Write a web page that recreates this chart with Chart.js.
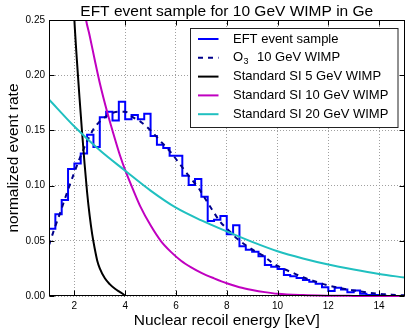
<!DOCTYPE html>
<html><head><meta charset="utf-8">
<script src="https://cdn.jsdelivr.net/npm/chart.js@4/dist/chart.umd.min.js"></script>
<style>html,body{margin:0;padding:0;background:#fff;}</style>
</head><body>
<canvas id="c" width="410" height="335"></canvas>
<script>
// ---------- data ----------
const chartTitle = 'EFT event sample for 10 GeV WIMP in Ge';
const xLabel = 'Nuclear recoil energy [keV]';
const yLabel = 'normalized event rate';
const xTicks = [2, 4, 6, 8, 10, 12, 14];
const yTicks = [0, 0.05, 0.10, 0.15, 0.20, 0.25];

const histEdges = [1.00,1.25,1.50,1.75,2.00,2.25,2.50,2.75,3.00,3.25,3.50,3.75,4.00,4.25,4.50,4.75,
  5.00,5.25,5.50,5.75,6.00,6.25,6.50,6.75,7.00,7.25,7.50,7.75,8.00,8.25,8.50,8.75,9.00,9.25,9.50,9.75,
  10.00,10.25,10.50,10.75,11.00,11.25,11.50,11.75,12.00,12.25,12.50,12.75,13.00,13.25,13.50,13.75,
  14.00,14.25,14.50,14.75,15.00];
const histValues = [0.061,0.074,0.087,0.115,0.120,0.129,0.146,0.135,0.162,0.167,0.159,0.176,
  0.160,0.164,0.160,0.165,0.145,0.137,0.134,0.127,0.127,0.109,0.1005,0.106,0.090,0.068,0.069,0.0725,
  0.056,0.064,0.045,0.042,0.040,0.036,0.028,0.0265,0.0245,0.019,0.018,0.0163,0.0145,0.013,0.011,0.008,
  0.0045,0.0075,0.006,0.0035,0.005,0.002,0.001,0.001,0.0005,0.0,0.0,0.0];

const o3Energy = [1.0,1.2,1.45,1.7,2.0,2.25,2.5,2.75,3.0,3.35,3.7,4.0,4.3,4.6,5.0,5.4,5.8,6.2,6.6,6.9,7.1,7.4,7.75,8.1,8.4,8.75,9.05,9.4,9.8,10.2,10.6,11.0,11.5,12.0,12.5,13.0,13.5,14.0,14.5,15.0];
const o3Values = [0.046,0.060,0.076,0.093,0.112,0.127,0.140,0.151,0.158,0.164,0.167,0.167,0.162,0.158,0.150,0.140,0.130,0.118,0.106,0.0975,0.090,0.079,0.067,0.059,0.052,0.046,0.0415,0.037,0.030,0.025,0.021,0.017,0.013,0.0095,0.007,0.005,0.0033,0.002,0.0012,0.0006];

const si5Energy = [1.8,1.9,2.0,2.1,2.2,2.3,2.4,2.5,2.6,2.7,2.8,2.9,3.0,3.2,3.4,3.6,3.8,3.9,4.0];
const si5Values = [0.36,0.30,0.25,0.213,0.180,0.149,0.120,0.094,0.073,0.056,0.043,0.032,0.025,0.016,0.0105,0.0065,0.0035,0.002,0.0];

const si10Energy = [2.3,2.46,2.6,2.8,3.0,3.3,3.6,3.8,4.0,4.3,4.6,5.0,5.4,5.8,6.2,6.6,7.0,7.5,8.0,8.5,9.0,9.5,10.0,11.0,12.0,13.0,14.0,15.0];
const si10Values = [0.275,0.25,0.236,0.214,0.193,0.166,0.142,0.127,0.114,0.097,0.081,0.064,0.050,0.040,0.032,0.026,0.021,0.016,0.0115,0.008,0.0055,0.0035,0.002,0.0008,0.0003,0.0001,0.0,0.0];

const si20Energy = [1,2,3,4,5,6,7,8,9,10,11,12,13,14,15];
const si20Values = [0.178,0.1535,0.132,0.1135,0.0955,0.0800,0.0685,0.0585,0.0490,0.0405,0.0340,0.0285,0.0240,0.0200,0.0167];

const seriesLabels = ['EFT event sample', 'O3 10 GeV WIMP', 'Standard SI 5 GeV WIMP', 'Standard SI 10 GeV WIMP', 'Standard SI 20 GeV WIMP'];

// ---------- build ----------
const pts = (xs, ys) => xs.map((x, i) => ({x: x, y: ys[i]}));
const histPts = histEdges.map((e, i) => ({x: e, y: histValues[Math.min(i, histValues.length - 1)]}));
const FONT = '"Liberation Sans", Arial, Helvetica, sans-serif';

const decor = {
  id: 'decor',
  afterDatasetsDraw(chart) {
    const {ctx, chartArea: a, scales: {x, y}} = chart;
    ctx.save();
    ctx.strokeStyle = '#000'; ctx.lineWidth = 1; ctx.setLineDash([]);
    const L = Math.round(a.left) + 0.5, R = Math.round(a.right) - 0.5, T = Math.round(a.top) + 0.5, B = Math.round(a.bottom) - 0.5;
    ctx.strokeRect(L, T, R - L, B - T);
    ctx.beginPath();
    x.ticks.forEach(t => { const p = Math.round(x.getPixelForValue(t.value)) + 0.5;
      ctx.moveTo(p, B); ctx.lineTo(p, B - 5); ctx.moveTo(p, T); ctx.lineTo(p, T + 5); });
    y.ticks.forEach(t => { const p = Math.round(y.getPixelForValue(t.value)) + 0.5;
      ctx.moveTo(L, p); ctx.lineTo(L + 5, p); ctx.moveTo(R, p); ctx.lineTo(R - 5, p); });
    ctx.stroke();
    // legend
    const bx = a.right - 214.5, by = a.top + 7.5, bw = 207.5, bh = 99;
    ctx.fillStyle = '#fff';
    ctx.fillRect(Math.round(bx) + 0.5, Math.round(by) + 0.5, bw, bh);
    ctx.strokeStyle = '#222'; ctx.lineWidth = 1;
    ctx.strokeRect(Math.round(bx) + 0.5, Math.round(by) + 0.5, bw, bh);
    chart.data.datasets.forEach((ds, i) => {
      const ry = by + 11.5 + i * 18.8;
      ctx.beginPath();
      ctx.strokeStyle = ds.borderColor; ctx.lineWidth = 2;
      ctx.setLineDash(ds.borderDash || []);
      ctx.moveTo(bx + 8, ry); ctx.lineTo(bx + 28.5, ry); ctx.stroke();
      ctx.setLineDash([]);
      ctx.fillStyle = '#000'; ctx.textBaseline = 'middle'; ctx.textAlign = 'left';
      ctx.font = '13px ' + FONT;
      if (ds.subLabel) {
        const parts = ds.label.split(' ');
        const head = parts[0];
        ctx.fillText(head[0], bx + 43, ry);
        const w = ctx.measureText(head[0]).width;
        ctx.font = '9px ' + FONT;
        ctx.fillText(head.slice(1), bx + 43 + w + 0.5, ry + 4);
        ctx.font = '13px ' + FONT;
        ctx.fillText(parts.slice(1).join(' '), bx + 67, ry);
      } else {
        ctx.fillText(ds.label, bx + 43, ry);
      }
    });
    ctx.fillStyle = '#000'; ctx.font = '15.5px ' + FONT; ctx.textAlign = 'center'; ctx.textBaseline = 'middle';
    ctx.fillText(chartTitle, (a.left + a.right) / 2, 11.5);
    ctx.restore();
  }
};

const clip = {left: 0, top: 0, right: 0, bottom: 2};
new Chart(document.getElementById('c'), {
  type: 'line',
  data: {
    datasets: [
      {label: seriesLabels[0], data: histPts, borderColor: '#0000ff', borderWidth: 2, stepped: true, pointRadius: 0, fill: false, order: 4, clip: clip},
      {label: seriesLabels[1], subLabel: true, data: pts(o3Energy, o3Values), borderColor: '#00008b', borderWidth: 2, borderDash: [5, 5], pointRadius: 0, fill: false, cubicInterpolationMode: 'monotone', order: 3, clip: clip},
      {label: seriesLabels[2], data: pts(si5Energy, si5Values), borderColor: '#000000', borderWidth: 2, pointRadius: 0, fill: false, cubicInterpolationMode: 'monotone', order: 2, clip: clip},
      {label: seriesLabels[3], data: pts(si10Energy, si10Values), borderColor: '#c000c0', borderWidth: 2, pointRadius: 0, fill: false, cubicInterpolationMode: 'monotone', order: 1, clip: clip},
      {label: seriesLabels[4], data: pts(si20Energy, si20Values), borderColor: '#20c0c0', borderWidth: 2, pointRadius: 0, fill: false, cubicInterpolationMode: 'monotone', order: 0, clip: clip}
    ]
  },
  options: {
    responsive: false, animation: false, devicePixelRatio: 1,
    layout: {padding: {left: 0, right: 5.5, top: 20, bottom: 0}},
    plugins: {legend: {display: false}, tooltip: {enabled: false}, title: {display: false}},
    scales: {
      x: {
        type: 'linear', min: 1, max: 15,
        afterBuildTicks: s => { s.ticks = xTicks.map(v => ({value: v})); },
        afterFit: s => { s.height = 39; },
        grid: {color: '#a0a0a0', lineWidth: 1, drawTicks: false},
        border: {display: false, dash: [1, 2]},
        ticks: {color: '#000', font: {family: FONT, size: 10}, padding: 4, maxRotation: 0, autoSkip: false, callback: v => String(v)},
        title: {display: true, text: xLabel, color: '#000', font: {family: FONT, size: 15.5}, padding: {top: 0, bottom: 4.5}}
      },
      y: {
        type: 'linear', min: 0, max: 0.25,
        afterBuildTicks: s => { s.ticks = yTicks.map(v => ({value: v})); },
        afterFit: s => { s.width = 49; },
        grid: {color: '#a0a0a0', lineWidth: 1, drawTicks: false},
        border: {display: false, dash: [1, 2]},
        ticks: {color: '#000', font: {family: FONT, size: 10}, padding: 4, autoSkip: false, callback: v => Number(v).toFixed(2)},
        title: {display: true, text: yLabel, color: '#000', font: {family: FONT, size: 15.5}, padding: {top: 4.5, bottom: 0}}
      }
    }
  },
  plugins: [decor]
});
</script>
</body></html>
